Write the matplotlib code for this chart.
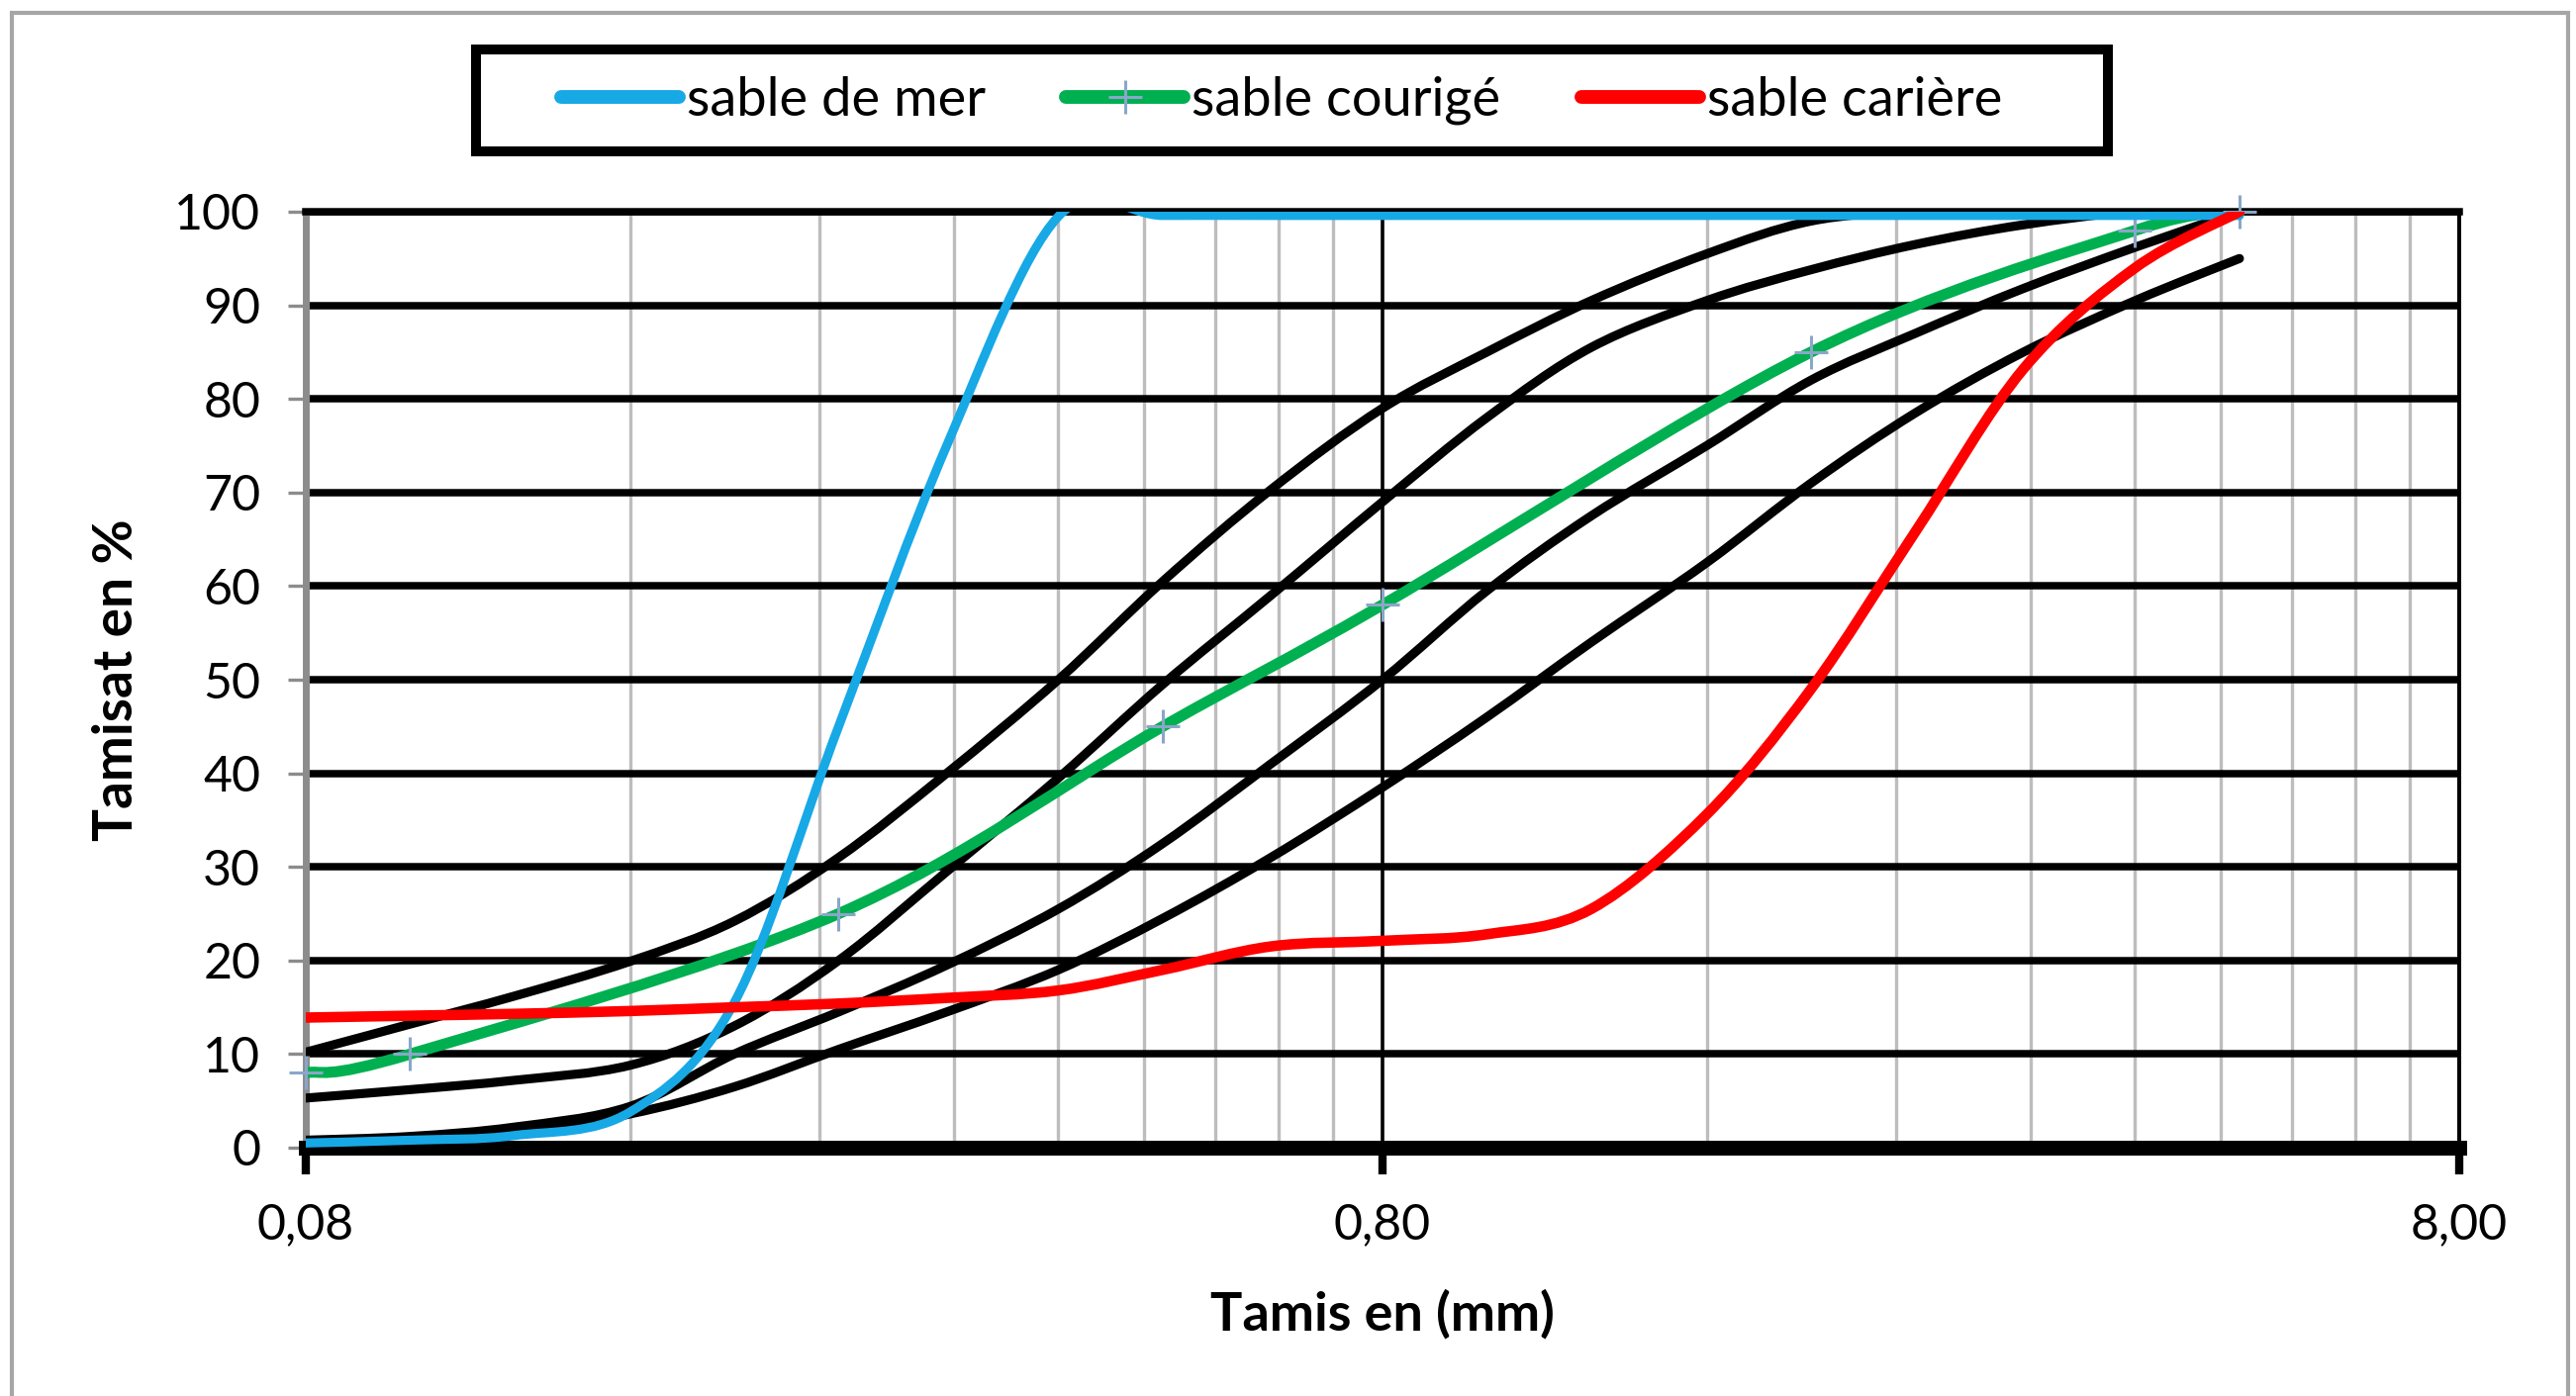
import numpy as np
import matplotlib
matplotlib.use("Agg")
import matplotlib.pyplot as plt
from matplotlib.path import Path
from matplotlib.patches import PathPatch, Rectangle
from matplotlib.lines import Line2D
from matplotlib.ticker import FixedLocator, FuncFormatter, NullFormatter

plt.rcParams["font.family"] = ["Lato", "DejaVu Sans"]

# sieve openings (mm) shared by the envelope curves and two of the sands
sieves = [0.08, 0.1, 0.125, 0.16, 0.2, 0.25, 0.315, 0.4, 0.5, 0.63, 0.8,
          1.0, 1.25, 1.6, 2.0, 2.5, 3.15, 4.0, 5.0]

# envelope (fuseau) limits, % passing
fuseau_a = [10.2, 13.2, 16.2, 19.9, 24.2, 31.0, 40.0, 50.0, 60.5, 70.3, 79.0,
            85.0, 90.5, 95.5, 99.0, 100, 100, 100, 100]
fuseau_b = [5.3, 6.2, 7.2, 8.8, 13.0, 20.0, 29.5, 39.5, 49.5, 59.0, 69.0,
            78.0, 85.5, 90.5, 93.8, 96.5, 98.6, 100, 100]
fuseau_c = [0.8, 1.2, 2.2, 4.4, 10.0, 14.5, 19.5, 25.5, 32.5, 41.0, 50.0,
            59.5, 67.5, 75.0, 82.0, 87.0, 91.8, 96.2, 100]
fuseau_d = [0.3, 0.8, 1.6, 3.6, 6.5, 10.5, 14.5, 19.0, 24.5, 31.0, 38.5,
            46.0, 54.0, 62.5, 71.0, 78.5, 85.0, 90.5, 95.0]

sable_mer = [0.5, 0.8, 1.3, 3.8, 15.5, 45.0, 75.0, 99.5, 99.6, 99.6, 99.6,
             99.6, 99.6, 99.6, 99.6, 99.6, 99.6, 99.6, 99.6]
sable_cariere = [13.9, 14.1, 14.3, 14.6, 15.0, 15.4, 16.0, 16.8, 19.0, 21.5, 22.1,
                 22.8, 25.5, 35.6, 49.0, 65.8, 83.2, 94.0, 100]

courige_x = [0.08, 0.1, 0.25, 0.5, 0.8, 2.0, 4.0, 5.0]
courige_y = [8, 10, 25, 45, 58, 85, 98, 100]

BLUE = "#17A8E6"
GREEN = "#00B050"
RED = "#FF0000"
MARK = "#8AA6C8"


def excel_smooth(x, y):
    # Excel-like smoothed line: cubic Bezier through the points, built in log-x space
    p = np.column_stack([np.log10(x), np.asarray(y, float)])
    pm = np.vstack([p[0], p, p[-1]])
    verts = [p[0]]
    codes = [Path.MOVETO]
    for i in range(len(p) - 1):
        c1 = p[i] + (pm[i + 2] - pm[i]) / 6
        c2 = p[i + 1] - (pm[i + 3] - pm[i + 1]) / 6
        verts += [c1, c2, p[i + 1]]
        codes += [Path.CURVE4] * 3
    verts = np.array(verts)
    verts[:, 0] = 10 ** verts[:, 0]
    return Path(verts, codes)


def add_curve(ax, x, y, color, lw, z):
    ax.add_patch(PathPatch(excel_smooth(x, y), facecolor="none", edgecolor=color,
                           lw=lw, zorder=z, capstyle="round", joinstyle="round"))


W, H = 2603, 1411
fig = plt.figure(figsize=(W / 200, H / 200), dpi=200)
ax = fig.add_axes([309 / W, 1 - 1160 / H, (2485 - 309) / W, (1160 - 214) / H])

for ys in (fuseau_a, fuseau_b, fuseau_c, fuseau_d):
    add_curve(ax, sieves, ys, "black", 3.3, 3)
add_curve(ax, courige_x, courige_y, GREEN, 4.0, 4)
ax.plot(courige_x, courige_y, "+", color=MARK, ms=12, mew=1.1, zorder=5, clip_on=False)
add_curve(ax, sieves, sable_mer, BLUE, 3.3, 6)
add_curve(ax, sieves, sable_cariere, RED, 3.8, 7)

ax.set_xscale("log")
ax.set_xlim(0.08, 8)
ax.set_ylim(0, 100)

major_x = [0.08, 0.8, 8.0]
minor_x = [k * 0.08 for k in range(2, 10)] + [k * 0.8 for k in range(2, 10)]
ax.xaxis.set_major_locator(FixedLocator(major_x))
ax.xaxis.set_minor_locator(FixedLocator(minor_x))
ax.xaxis.set_major_formatter(FuncFormatter(lambda v, _: f"{v:.2f}".replace(".", ",")))
ax.xaxis.set_minor_formatter(NullFormatter())
ax.yaxis.set_major_locator(FixedLocator(range(0, 101, 10)))

ax.grid(which="minor", axis="x", color="#bdbdbd", lw=1.2, zorder=0)
ax.grid(which="major", axis="x", color="black", lw=1.3, zorder=0)
ax.grid(which="major", axis="y", color="black", lw=2.7, zorder=0)
ax.set_axisbelow(True)

ax.spines["bottom"].set_linewidth(5.4)
ax.spines["bottom"].set_color("black")
ax.spines["left"].set_linewidth(2.5)
ax.spines["left"].set_color("#8c8c8c")
ax.spines["top"].set_linewidth(2.7)
ax.spines["top"].set_color("black")
ax.spines["right"].set_linewidth(1.4)
ax.spines["right"].set_color("black")

ax.tick_params(axis="x", which="major", direction="out", length=9.7, width=3,
               color="black", pad=10, labelsize=18)
ax.tick_params(axis="x", which="minor", length=0)
ax.tick_params(axis="y", direction="out", length=6.5, width=1.2, color="#8c8c8c",
               pad=10, labelsize=18)

ax.set_xlabel("Tamis en (mm)", fontsize=19.5, fontweight="bold", labelpad=15)
ax.set_ylabel("Tamisat en %", fontsize=19.8, fontweight="bold", labelpad=12)

# legend box and entries
fig.patches.append(Rectangle((481 / W, 1 - 153 / H), 1649 / W, 103 / H,
                             transform=fig.transFigure, facecolor="white",
                             edgecolor="black", lw=3.6, zorder=1))
handles = [
    Line2D([], [], color=BLUE, lw=5.0, solid_capstyle="round"),
    Line2D([], [], color=GREEN, lw=5.0, marker="+", ms=12, mew=1.1, mec=MARK,
           solid_capstyle="round"),
    Line2D([], [], color=RED, lw=5.0, solid_capstyle="round"),
]
fig.legend(handles, ["sable de mer", "sable courigé", "sable carière"],
           loc="center", bbox_to_anchor=(0.4975, 0.928), ncol=3, frameon=False,
           fontsize=19.5, handlelength=2.2, handletextpad=0.15, columnspacing=1.5)

# outer chart frame
fig.patches.append(Rectangle((12 / W, -0.05), (2595 - 12) / W, 1.05 - 13 / H,
                             transform=fig.transFigure, facecolor="none",
                             edgecolor="#a6a6a6", lw=1.5, zorder=0))

fig.savefig("out.png", dpi=200)
